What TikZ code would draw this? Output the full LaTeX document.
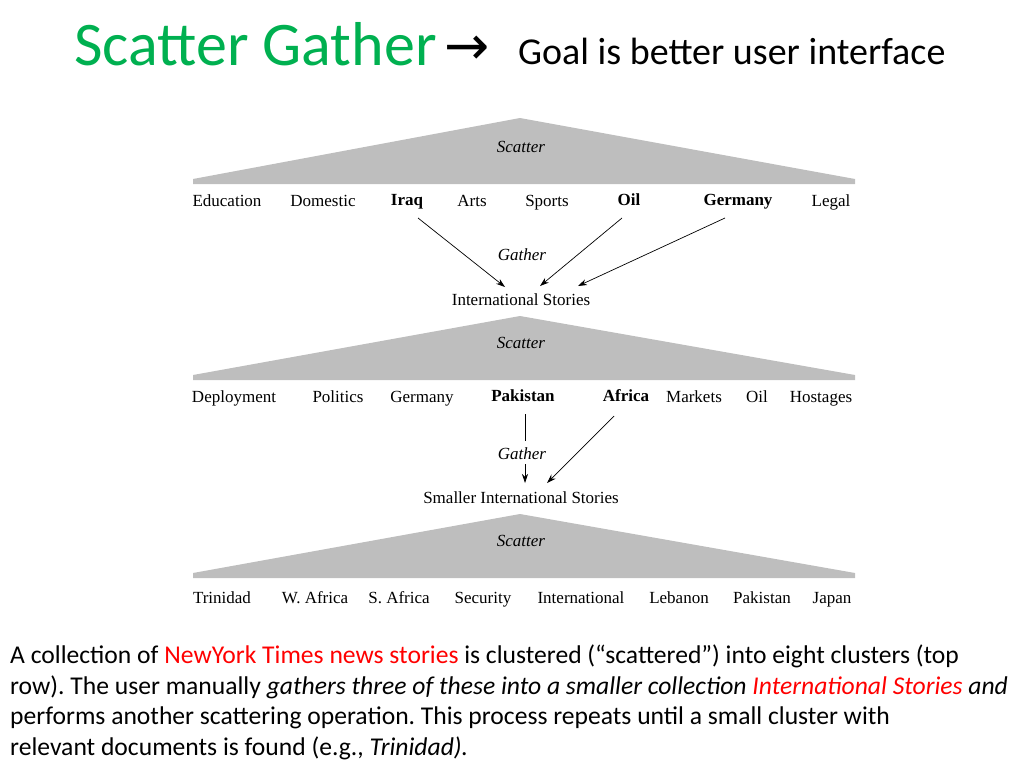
\documentclass[tikz,border=0pt]{standalone}
\usepackage{fontspec}
\setmainfont{Carlito}
\newfontfamily\lab{Liberation Serif}
\usetikzlibrary{arrows.meta}
\definecolor{tgreen}{RGB}{0,176,80}
\definecolor{tri}{RGB}{190,190,190}
\frenchspacing
\begin{document}
\begin{tikzpicture}[x=1pt,y=-1pt,
  lb/.style={font=\lab\fontsize{17}{19}\selectfont,inner sep=0pt,anchor=base},
  lbb/.style={lb,font=\lab\fontsize{17}{19}\selectfont\bfseries},
  it/.style={lb,font=\lab\fontsize{17}{19}\selectfont\itshape},
  tris/.style={fill=tri,draw=none},
  ar/.style={-{Stealth[length=9pt,width=6pt]},line width=0.7pt},
  body/.style={anchor=base west,inner sep=0pt,font=\fontsize{25.6}{30}\selectfont}]
\useasboundingbox (0,0) rectangle (1024,768);
\node[anchor=base west,inner sep=0pt,text=tgreen,font=\fontsize{62}{70}\selectfont] (t) at (74,66) {Scatter Gather};
\node[anchor=base west,inner sep=0pt] (tarr) at (444,64) {\fontspec{DejaVu Sans}\fontsize{54}{58}\selectfont→};
\node[anchor=base west,inner sep=0pt,font=\fontsize{38}{44}\selectfont] (goal) at (518,64) {Goal is better user interface};
% triangles
\fill[tris] (193,184)--(193,179)--(520,118)--(855,179)--(855,184)--cycle;
\fill[tris] (193,380)--(193,375)--(520,316)--(855,375)--(855,380)--cycle;
\fill[tris] (193,578)--(193,573)--(520,514)--(855,573)--(855,578)--cycle;
\node[it] (s1) at (521,152) {Scatter};
\node[it] (s2) at (521,348) {Scatter};
\node[it] (s3) at (521,546) {Scatter};
% row 1
\node[lb] (a1) at (227,206) {Education};
\node[lb] (a2) at (323,206) {Domestic};
\node[lbb] (iraq) at (407,205) {Iraq};
\node[lb] (a4) at (472,206) {Arts};
\node[lb] (a5) at (547,206) {Sports};
\node[lbb] (oil) at (629,205) {Oil};
\node[lbb] (ger) at (738,205) {Germany};
\node[lb] (a8) at (831,206) {Legal};
\node[it] (g1) at (522,260) {Gather};
\node[lb] (is) at (521,305) {International Stories};
\coordinate (i1) at (505,287);
\coordinate (i2) at (540,286);
\coordinate (i3) at (578,286);
\draw[ar] (418,218) -- (i1);
\draw[ar] (622,218) -- (i2);
\draw[ar] (725,218) -- (i3);
% row 2
\node[lb] (b1) at (234,402) {Deployment};
\node[lb] (b2) at (338,402) {Politics};
\node[lb] (b3) at (422,402) {Germany};
\node[lbb] (pak) at (523,401) {Pakistan};
\node[lbb] (afr) at (626,401) {Africa};
\node[lb] (b6) at (694,402) {Markets};
\node[lb] (b7) at (757,402) {Oil};
\node[lb] (b8) at (821,402) {Hostages};
\node[it] (g2) at (522,459) {Gather};
\node[lb] (sis) at (521,503) {Smaller International Stories};
\coordinate (p1) at (525,414);
\coordinate (p2) at (525,441);
\coordinate (p3) at (525,464);
\coordinate (p4) at (525,483);
\coordinate (f1) at (614,416);
\coordinate (f2) at (547,483);
\draw[line width=0.7pt] (p1) -- (p2);
\draw[ar] (p3) -- (p4);
\draw[ar] (f1) -- (f2);
% row 3
\node[lb] (c1) at (222,603) {Trinidad};
\node[lb] (c2) at (315,603) {W. Africa};
\node[lb] (c3) at (399,603) {S. Africa};
\node[lb] (c4) at (483,603) {Security};
\node[lb] (c5) at (581,603) {International};
\node[lb] (c6) at (679,603) {Lebanon};
\node[lb] (c7) at (762,603) {Pakistan};
\node[lb] (c8) at (832,603) {Japan};
% body text
\node[body] (l1) at (10,663) {A collection of \textcolor{red}{NewYork Times news stories} is clustered (“scattered”) into eight clusters (top};
\node[body] (l2) at (10,694) {row). The user manually \textit{gathers three of these into a smaller collection} \textcolor{red}{\textit{International Stories}} \textit{and}};
\node[body] (l3) at (10,724) {performs another scattering operation. This process repeats until a small cluster with};
\node[body] (l4) at (10,755) {relevant documents is found (e.g., \textit{Trinidad).}};
\end{tikzpicture}
\end{document}
